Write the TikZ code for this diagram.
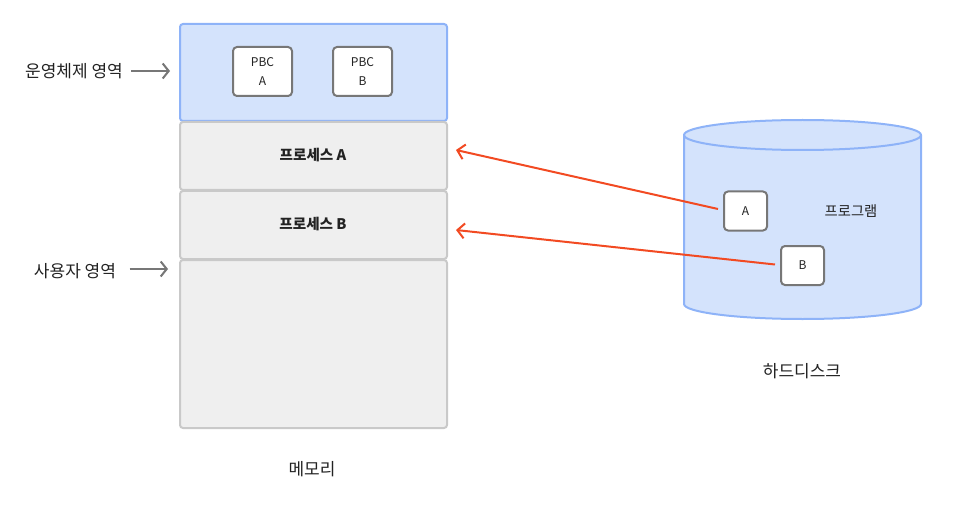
\documentclass[tikz,border=0pt]{standalone}
\usepackage{fontspec}
\setmainfont{Noto Sans CJK KR}
\usetikzlibrary{arrows.meta}
\definecolor{osfill}{HTML}{D4E3FC}
\definecolor{osline}{HTML}{8EB3F8}
\definecolor{memfill}{HTML}{EFEFEF}
\definecolor{memline}{HTML}{C9C9C9}
\definecolor{boxline}{HTML}{777777}
\definecolor{ink}{HTML}{222222}
\definecolor{loadred}{HTML}{F24A22}
\tikzset{
  region/.style={draw=memline, fill=memfill, line width=2pt, rounded corners=3pt, minimum width=267pt, anchor=north west, inner sep=0pt},
  osregion/.style={region, draw=osline, fill=osfill},
  pcb/.style={draw=boxline, fill=white, line width=2pt, rounded corners=4pt, minimum width=59pt, minimum height=49pt, inner sep=0pt, text=ink, font=\fontsize{12}{19}\selectfont, align=center},
  prog/.style={pcb, minimum width=43pt, minimum height=39pt},
  lbl/.style={text=ink, font=\fontsize{17}{20}\selectfont},
  proclbl/.style={text=ink, font=\fontsize{14.6}{17}\selectfont\bfseries},
  sidearrow/.style={draw=boxline, line width=2pt, -{Straight Barb[length=6pt,width=15pt]}},
  loadarrow/.style={draw=loadred, line width=2pt, -{Straight Barb[length=7pt,width=15pt]}}
}
\begin{document}
\begin{tikzpicture}[x=1pt,y=-1pt]
\useasboundingbox (0,0) rectangle (967,508);
% memory column
\node[osregion, minimum height=97pt] (os) at (179,23) {};
\node[region, minimum height=68pt] (pa) at (179,121) {};
\node[region, minimum height=68pt] (pb) at (179,190) {};
\node[region, minimum height=168pt] (user) at (179,259) {};
\node[pcb] (pcba) at (262.5,71.5) {PBC\\A};
\node[pcb] (pcbb) at (362.5,71.5) {PBC\\B};
\node[proclbl] (pal) at (313,155) {프로세스 A};
\node[proclbl] (pbl) at (313,224) {프로세스 B};
\node[lbl] (mem) at (312,469) {메모리};
% side labels
\node[lbl] (osl) at (74,71.5) {운영체제 영역};
\node[lbl] (usl) at (75,271.5) {사용자 영역};
\coordinate (osarr) at (170,71);
\coordinate (usarr) at (168,269);
\draw[sidearrow] (osl.east) ++(5,-0.5) -- (osarr);
\draw[sidearrow] (usl.east) ++(10,-2.5) -- (usarr);
% hard disk cylinder
\path[draw=osline, fill=osfill, line width=2pt]
  (684,135) -- (684,304) arc[start angle=180, end angle=360, x radius=118.5pt, y radius=15pt]
  -- (921,135) arc[start angle=0, end angle=180, x radius=118.5pt, y radius=15pt] -- cycle;
\draw[draw=osline, line width=2pt] (684,135) arc[start angle=180, end angle=360, x radius=118.5pt, y radius=15pt];
\node[prog] (proga) at (745.5,211) {A};
\node[prog] (progb) at (802.5,265.5) {B};
\node[text=ink, font=\fontsize{14.3}{17}\selectfont] (progl) at (851,211) {프로그램};
\node[lbl] (disk) at (802,371) {하드디스크};
% loading arrows
\coordinate (ta) at (456,150);
\coordinate (tb) at (456,230);
\draw[loadarrow] (proga.west) ++(-5,-2) -- (ta);
\draw[loadarrow] (progb.west) ++(-5,-1) -- (tb);
\end{tikzpicture}
\end{document}
